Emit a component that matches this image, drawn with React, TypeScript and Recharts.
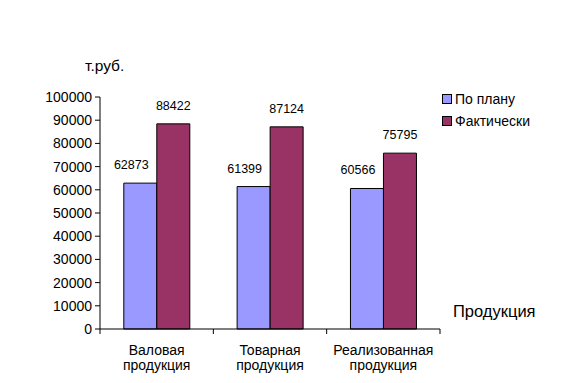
import { Bar, BarChart, LabelList, XAxis, YAxis } from "recharts";

const categories = ["Валовая продукция", "Товарная продукция", "Реализованная продукция"];
const planValues = [62873, 61399, 60566];
const factValues = [88422, 87124, 75795];
const yTicks = [0, 10000, 20000, 30000, 40000, 50000, 60000, 70000, 80000, 90000, 100000];

const series = [
  { key: "plan", label: "По плану", color: "#9999ff", dx: -9 },
  { key: "fact", label: "Фактически", color: "#993366", dx: 0 },
];

const data = categories.map((name, i) => ({
  name,
  plan: planValues[i],
  fact: factValues[i],
}));

const font = "'Liberation Sans', Arial, sans-serif";
const W = 562;
const H = 383;
const plotLeft = 100;
const plotRight = 440;
const step = (plotRight - plotLeft) / categories.length;

function CategoryTick(props: any) {
  const { x, y, payload, index } = props;
  const words = String(payload.value).split(" ");
  const left = x - step / 2;
  return (
    <g>
      <line x1={left} x2={left} y1={y - 5} y2={y} stroke="#000" />
      {index === categories.length - 1 && (
        <line x1={x + step / 2} x2={x + step / 2} y1={y - 5} y2={y} stroke="#000" />
      )}
      {words.map((w, i) => (
        <text key={i} x={x} y={y + 21 + i * 15} textAnchor="middle" fontSize={14} fill="#000" fontFamily={font}>
          {w}
        </text>
      ))}
    </g>
  );
}

export default function App() {
  return (
    <div style={{ position: "absolute", left: 0, top: 0, width: W, height: H, background: "#fff", fontFamily: font }}>
      <BarChart
        width={W}
        height={H}
        data={data}
        margin={{ top: 97, right: W - plotRight, bottom: 0, left: 0 }}
        barCategoryGap="21%"
        barGap={0}
      >
        <XAxis
          dataKey="name"
          height={54}
          axisLine={{ stroke: "#000" }}
          tickLine={false}
          tickSize={5}
          tickMargin={0}
          interval={0}
          tick={<CategoryTick />}
        />
        <YAxis
          width={plotLeft}
          domain={[0, 100000]}
          ticks={yTicks}
          interval={0}
          axisLine={{ stroke: "#000" }}
          tickLine={{ stroke: "#000" }}
          tickSize={5}
          tickMargin={3}
          tick={{ fill: "#000", fontSize: 14, fontFamily: font }}
        />
        {series.map((s) => (
          <Bar key={s.key} dataKey={s.key} fill={s.color} stroke="#000" strokeWidth={1} isAnimationActive={false}>
            <LabelList
              dataKey={s.key}
              position="top"
              offset={14}
              dx={s.dx}
              fill="#000"
              fontSize={12.5}
              fontFamily={font}
            />
          </Bar>
        ))}
      </BarChart>
      <div style={{ position: "absolute", left: 85, top: 57, fontSize: 15.5, color: "#000" }}>т.руб.</div>
      <div style={{ position: "absolute", left: 453, top: 302, fontSize: 16.5, color: "#000" }}>Продукция</div>
      <div style={{ position: "absolute", left: 442, top: 88 }}>
        {series.map((s) => (
          <div key={s.key} style={{ display: "flex", alignItems: "center", height: 22, fontSize: 14, color: "#000" }}>
            <span
              style={{
                display: "inline-block",
                width: 8,
                height: 8,
                background: s.color,
                border: "1px solid #000",
                marginRight: 3,
              }}
            />
            {s.label}
          </div>
        ))}
      </div>
    </div>
  );
}
